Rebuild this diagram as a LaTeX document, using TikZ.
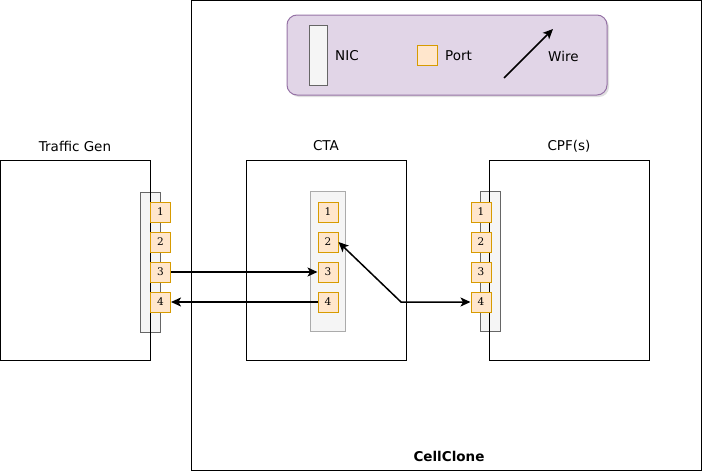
\documentclass[tikz,border=0pt]{standalone}
\usepackage{fontspec}
\setmainfont{DejaVu Sans}
\newfontfamily\portfont{DejaVu Serif}
\usetikzlibrary{arrows.meta,shadows}
\definecolor{portfill}{HTML}{FFE6CC}
\definecolor{portline}{HTML}{D79B00}
\definecolor{nicfill}{HTML}{F5F5F5}
\definecolor{nicline}{HTML}{666666}
\definecolor{legendfill}{HTML}{E1D5E7}
\definecolor{legendline}{HTML}{9673A6}
\begin{document}
\begin{tikzpicture}[x=1pt, y=-1pt, font=\fontsize{13.5}{16}\selectfont,
    box/.style={draw, line width=1pt, minimum width=160pt, minimum height=200pt, inner sep=0pt},
    nic/.style={draw=nicline, fill=nicfill, line width=1pt, minimum width=20pt, minimum height=140pt, inner sep=0pt},
    port/.style={draw=portline, fill=portfill, line width=1pt, minimum size=20pt, inner sep=0pt,
        font=\portfont\fontsize{10.5}{12}\selectfont},
    wire/.style={line width=1.5pt, >={Stealth[length=10pt,width=9pt,inset=2.5pt]}}]
    \useasboundingbox (0,0) rectangle (702,471);

    \node[box, minimum width=510pt, minimum height=470pt] (cellclone) at (446,235) {};
    \node[font=\bfseries\fontsize{13.5}{16}\selectfont] (cellclonelabel) at (449,456) {CellClone};

    \node[draw=legendline, fill=legendfill, line width=1pt, rounded corners=10pt,
        minimum width=320pt, minimum height=80pt,
        drop shadow={shadow xshift=2pt, shadow yshift=-2pt, opacity=0.25}] (legend) at (447,55) {};
    \node[nic, minimum width=18pt, minimum height=60pt] (nickey) at (318,55) {};
    \node[anchor=west, inner sep=0pt] (nictext) at (335,56) {NIC};
    \node[port] (portkey) at (427,55) {};
    \node[anchor=west, inner sep=0pt] (porttext) at (445,56) {Port};
    \coordinate (wirestart) at (504,78);
    \coordinate (wireend) at (553,29);
    \draw[wire, ->] (wirestart) -- (wireend);
    \node[anchor=west, inner sep=0pt] (wiretext) at (548,56) {Wire};

    \node[nic] (tgnic) at (150.5,262) {};
    \node[box, minimum width=150pt] (tg) at (75,260) {};
    \node (tglabel) at (75,146) {Traffic Gen};
    \foreach \i in {1,...,4}
        \node[port] (tg\i) at (160.5,182+30*\i) {\i};

    \node[box] (cta) at (326,260) {};
    \node (ctalabel) at (326,146) {CTA};
    \node[nic, draw=nicline!55, minimum width=35pt] (ctanic) at (328.3,261) {};
    \foreach \i in {1,...,4}
        \node[port] (cta\i) at (328,182+30*\i) {\i};

    \node[nic] (cpfnic) at (490.5,261) {};
    \node[box] (cpf) at (569,260) {};
    \node (cpflabel) at (569,146) {CPF(s)};
    \foreach \i in {1,...,4}
        \node[port] (cpf\i) at (481,182+30*\i) {\i};

    \draw[wire, ->] (tg3.east) -- (cta3.west);
    \draw[wire, ->] (cta4.west) -- (tg4.east);
    \coordinate (bend) at (401,302);
    \draw[wire, <->] (cta2.east) -- (bend) -- (cpf4.west);
\end{tikzpicture}
\end{document}
